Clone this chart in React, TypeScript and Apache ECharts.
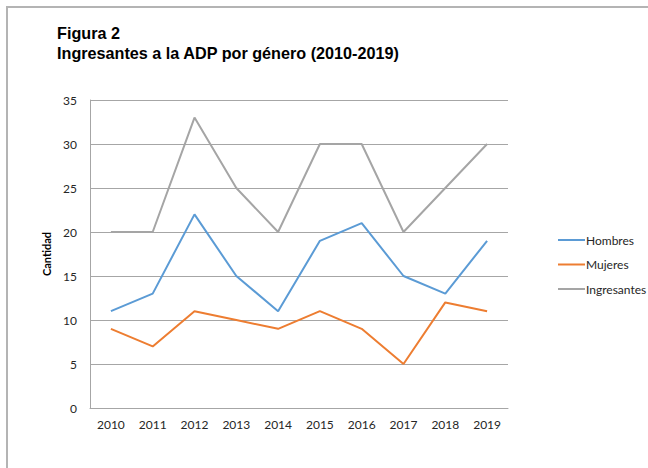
import React, { useEffect, useRef } from "react";
import * as echarts from "echarts";

const years = ["2010", "2011", "2012", "2013", "2014", "2015", "2016", "2017", "2018", "2019"];
const hombres = [11, 13, 22, 15, 11, 19, 21, 15, 13, 19];
const mujeres = [9, 7, 11, 10, 9, 11, 9, 5, 12, 11];
const ingresantes = [20, 20, 33, 25, 20, 30, 30, 20, 25, 30];

const FONT = "Lato, 'Open Sans', sans-serif";

export default function App() {
  const ref = useRef<HTMLDivElement>(null);
  useEffect(() => {
    if (!ref.current) return;
    const chart = echarts.init(ref.current, undefined, { renderer: "svg" });
    const mk = (name: string, data: number[], color: string) => ({
      name,
      type: "line",
      data,
      symbol: "none",
      lineStyle: { color, width: 2 },
      itemStyle: { color },
    });
    chart.setOption({
      animation: false,
      backgroundColor: "#ffffff",
      graphic: [
        {
          type: "rect",
          shape: { x: 7, y: 7, width: 700, height: 500 },
          style: { fill: "none", stroke: "#b4b4b4", lineWidth: 2 },
          silent: true,
        },
      ],
      title: {
        text: "Figura 2\nIngresantes a la ADP por género (2010-2019)",
        left: 52,
        top: 18,
        textStyle: {
          fontFamily: "'Liberation Sans', Arial, sans-serif",
          fontWeight: "bold",
          fontSize: 16.2,
          lineHeight: 20,
          color: "#000000",
        },
      },
      legend: {
        orient: "vertical",
        left: 553,
        top: 227,
        icon: "rect",
        itemWidth: 27,
        itemHeight: 2,
        itemGap: 8.5,
        data: ["Hombres", "Mujeres", "Ingresantes"],
        textStyle: { fontFamily: FONT, fontSize: 12, lineHeight: 16, color: "#262626", padding: [0, 0, 0, -4] },
      },
      grid: { left: 90, top: 100, width: 418, height: 308, containLabel: false },
      xAxis: {
        type: "category",
        data: years,
        boundaryGap: true,
        axisLine: { show: true, lineStyle: { color: "#a6a6a6", width: 1 } },
        axisTick: { show: false },
        axisLabel: { fontFamily: FONT, fontSize: 12, color: "#262626", margin: 10, interval: 0 },
      },
      yAxis: {
        type: "value",
        min: 0,
        max: 35,
        interval: 5,
        name: "Cantidad",
        nameLocation: "middle",
        nameGap: 33,
        nameTextStyle: { fontFamily: FONT, fontSize: 11, fontWeight: "bold", color: "#000000" },
        axisLine: { show: true, lineStyle: { color: "#a6a6a6", width: 1 } },
        axisTick: { show: false },
        splitLine: { show: true, lineStyle: { color: "#a6a6a6", width: 1 } },
        axisLabel: { fontFamily: FONT, fontSize: 12, color: "#262626", margin: 13 },
      },
      series: [
        mk("Hombres", hombres, "#5b9bd5"),
        mk("Mujeres", mujeres, "#ed7d31"),
        mk("Ingresantes", ingresantes, "#a5a5a5"),
      ],
    });
    return () => chart.dispose();
  }, []);
  return (
    <div
      ref={ref}
      style={{ position: "absolute", left: 0, top: 0, width: 648, height: 468 }}
    />
  );
}
